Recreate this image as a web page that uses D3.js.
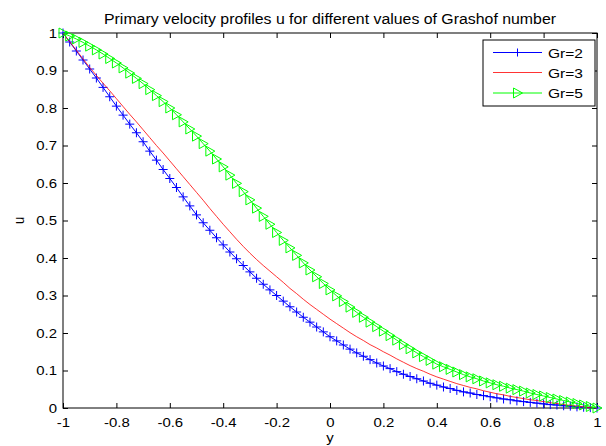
<!DOCTYPE html>
<html>
<head>
<meta charset="utf-8">
<script src="https://cdn.jsdelivr.net/npm/d3@7"></script>
<style>
  body { margin: 0; background: #fff; }
  text { font-family: "Liberation Sans", Arial, sans-serif; }
</style>
</head>
<body>
<svg id="main" width="606" height="446"></svg>
<script>
// chart values
const titleText = "Primary velocity  profiles u for different values of Grashof number";
const xLabel = "y";
const yLabel = "u";
const seriesNames = ["Gr=2", "Gr=3", "Gr=5"];
const xTicks = [-1, -0.8, -0.6, -0.4, -0.2, 0, 0.2, 0.4, 0.6, 0.8, 1];
const yTicks = [0, 0.1, 0.2, 0.3, 0.4, 0.5, 0.6, 0.7, 0.8, 0.9, 1];

const yGrid = [
  -1.000, -0.975, -0.950, -0.925, -0.900, -0.875, -0.850, -0.825, -0.800, -0.775,
  -0.750, -0.725, -0.700, -0.675, -0.650, -0.625, -0.600, -0.575, -0.550, -0.525,
  -0.500, -0.475, -0.450, -0.425, -0.400, -0.375, -0.350, -0.325, -0.300, -0.275,
  -0.250, -0.225, -0.200, -0.175, -0.150, -0.125, -0.100, -0.075, -0.050, -0.025,
   0.000,  0.025,  0.050,  0.075,  0.100,  0.125,  0.150,  0.175,  0.200,  0.225,
   0.250,  0.275,  0.300,  0.325,  0.350,  0.375,  0.400,  0.425,  0.450,  0.475,
   0.500,  0.525,  0.550,  0.575,  0.600,  0.625,  0.650,  0.675,  0.700,  0.725,
   0.750,  0.775,  0.800,  0.825,  0.850,  0.875,  0.900,  0.925,  0.950,  0.975,
   1.000
];

const uGr2 = [
  1.000, 0.976, 0.952, 0.928, 0.904, 0.880, 0.855, 0.830, 0.805, 0.781,
  0.757, 0.734, 0.710, 0.685, 0.661, 0.636, 0.612, 0.588, 0.563, 0.539,
  0.515, 0.494, 0.474, 0.454, 0.435, 0.416, 0.398, 0.380, 0.363, 0.346,
  0.330, 0.315, 0.300, 0.285, 0.270, 0.256, 0.242, 0.229, 0.216, 0.203,
  0.190, 0.179, 0.168, 0.157, 0.147, 0.138, 0.129, 0.120, 0.112, 0.105,
  0.097, 0.090, 0.084, 0.078, 0.072, 0.066, 0.061, 0.056, 0.052, 0.047,
  0.043, 0.040, 0.036, 0.033, 0.030, 0.027, 0.024, 0.022, 0.019, 0.017,
  0.015, 0.013, 0.011, 0.009, 0.008, 0.006, 0.005, 0.003, 0.002, 0.001,
  0.000
];

const uGr3 = [
  1.000, 0.977, 0.954, 0.931, 0.908, 0.887, 0.866, 0.846, 0.825, 0.804,
  0.783, 0.763, 0.742, 0.721, 0.700, 0.680, 0.659, 0.638, 0.617, 0.596,
  0.575, 0.554, 0.532, 0.511, 0.490, 0.470, 0.450, 0.431, 0.413, 0.396,
  0.380, 0.365, 0.350, 0.335, 0.319, 0.305, 0.290, 0.276, 0.263, 0.250,
  0.237, 0.225, 0.213, 0.201, 0.190, 0.180, 0.169, 0.160, 0.150, 0.141,
  0.131, 0.122, 0.113, 0.105, 0.098, 0.090, 0.083, 0.077, 0.071, 0.065,
  0.060, 0.055, 0.051, 0.046, 0.042, 0.038, 0.035, 0.031, 0.028, 0.025,
  0.022, 0.020, 0.017, 0.014, 0.012, 0.009, 0.007, 0.005, 0.003, 0.001,
  0.000
];

const uGr5 = [
  1.000, 0.992, 0.984, 0.975, 0.965, 0.955, 0.944, 0.932, 0.920, 0.907,
  0.893, 0.879, 0.865, 0.849, 0.833, 0.817, 0.800, 0.782, 0.763, 0.744,
  0.725, 0.705, 0.685, 0.664, 0.643, 0.621, 0.599, 0.577, 0.555, 0.533,
  0.511, 0.490, 0.468, 0.447, 0.427, 0.407, 0.387, 0.368, 0.350, 0.332,
  0.315, 0.299, 0.284, 0.269, 0.255, 0.242, 0.229, 0.217, 0.205, 0.193,
  0.181, 0.169, 0.158, 0.147, 0.137, 0.127, 0.117, 0.110, 0.103, 0.096,
  0.089, 0.083, 0.078, 0.072, 0.067, 0.062, 0.058, 0.053, 0.049, 0.045,
  0.040, 0.036, 0.032, 0.028, 0.024, 0.020, 0.016, 0.012, 0.008, 0.004,
  0.000
];

const size = {
    width: 606, height: 446,
    margin: {left: 63, right: 9, top: 33, bottom: 38}
};
const fontSize = 13;
const stretch = 1.15; // text in the picture is a bit wider than normal

const svg = d3.select("#main");
svg.append("rect").attr("width", size.width).attr("height", size.height).attr("fill", "#fff");

const plotLeft = size.margin.left;
const plotRight = size.width - size.margin.right;
const plotTop = size.margin.top;
const plotBottom = size.height - size.margin.bottom;

const xScale = d3.scaleLinear([-1, 1], [plotLeft, plotRight]);
const yScale = d3.scaleLinear([0, 1], [plotBottom, plotTop]);
const fmt = d => String(+d.toFixed(1));

// axes: inward ticks on all four sides
const xAxis = svg.append("g")
    .attr("transform", `translate(0,${plotBottom})`)
    .call(d3.axisBottom(xScale).tickValues(xTicks).tickSize(-5).tickPadding(9.5).tickFormat(fmt));
const yAxis = svg.append("g")
    .attr("transform", `translate(${plotLeft},0)`)
    .call(d3.axisLeft(yScale).tickValues(yTicks).tickSize(-5).tickPadding(6).tickFormat(fmt));
svg.append("g")
    .attr("transform", `translate(0,${plotTop})`)
    .call(d3.axisTop(xScale).tickValues(xTicks).tickSize(-5).tickFormat(""));
svg.append("g")
    .attr("transform", `translate(${plotRight},0)`)
    .call(d3.axisRight(yScale).tickValues(yTicks).tickSize(-5).tickFormat(""));

svg.selectAll(".domain").remove();
svg.selectAll(".tick line").attr("stroke", "#000");
svg.selectAll(".tick text")
    .attr("fill", "#000")
    .attr("font-size", fontSize)
    .attr("font-family", "Liberation Sans, Arial, sans-serif");
xAxis.selectAll(".tick text").attr("transform", `scale(${stretch},1)`);
yAxis.selectAll(".tick text")
    .attr("x", -6 / stretch)
    .attr("transform", `scale(${stretch},1)`);

svg.append("rect")
    .attr("x", plotLeft).attr("y", plotTop)
    .attr("width", plotRight - plotLeft).attr("height", plotBottom - plotTop)
    .attr("fill", "none").attr("stroke", "#000").attr("stroke-width", 1);

// series
const line = d3.line().x((d, i) => xScale(yGrid[i])).y(d => yScale(d));

const plusPath = (cx, cy, r) => `M${cx - r},${cy}H${cx + r}M${cx},${cy - r}V${cy + r}`;
const triPath = (cx, cy, r) => `M${cx - r * 0.8},${cy - r}L${cx + r},${cy}L${cx - r * 0.8},${cy + r}Z`;

svg.append("path").datum(uGr2)
    .attr("d", line).attr("fill", "none").attr("stroke", "#0000ff").attr("stroke-width", 1);
svg.append("g").selectAll("path").data(uGr2).join("path")
    .attr("d", (d, i) => plusPath(xScale(yGrid[i]), yScale(d), 4.5))
    .attr("stroke", "#0000ff").attr("stroke-width", 1).attr("fill", "none");

svg.append("path").datum(uGr3)
    .attr("d", line).attr("fill", "none").attr("stroke", "#ff0000").attr("stroke-width", 0.8);

svg.append("path").datum(uGr5)
    .attr("d", line).attr("fill", "none").attr("stroke", "#00ff00").attr("stroke-width", 1);
svg.append("g").selectAll("path").data(uGr5).join("path")
    .attr("d", (d, i) => triPath(xScale(yGrid[i]), yScale(d), 5))
    .attr("stroke", "#00ff00").attr("stroke-width", 1).attr("fill", "none");

// title and axis labels
svg.append("text")
    .attr("x", (plotLeft + plotRight) / 2).attr("y", 24)
    .attr("text-anchor", "middle")
    .attr("font-size", 14)
    .attr("textLength", 452)
    .attr("lengthAdjust", "spacingAndGlyphs")
    .attr("fill", "#000")
    .text(titleText);
svg.append("text")
    .attr("transform", `translate(${(plotLeft + plotRight) / 2},442) scale(${stretch},1)`)
    .attr("text-anchor", "middle")
    .attr("font-size", fontSize)
    .attr("fill", "#000")
    .text(xLabel);
svg.append("text")
    .attr("transform", `translate(24,${(plotTop + plotBottom) / 2}) rotate(-90) scale(1,${stretch})`)
    .attr("text-anchor", "middle")
    .attr("font-size", fontSize)
    .attr("fill", "#000")
    .text(yLabel);

// legend
const legend = {x: 483, y: 40, w: 112, h: 66};
svg.append("rect")
    .attr("x", legend.x).attr("y", legend.y)
    .attr("width", legend.w).attr("height", legend.h)
    .attr("fill", "#fff").attr("stroke", "#000").attr("stroke-width", 1);

const legendColors = ["#0000ff", "#ff0000", "#00ff00"];
const legendRows = [52.5, 72.5, 93];
seriesNames.forEach((name, i) => {
    const yy = legendRows[i];
    svg.append("line")
        .attr("x1", 493).attr("x2", 542).attr("y1", yy).attr("y2", yy)
        .attr("stroke", legendColors[i]).attr("stroke-width", i === 1 ? 0.8 : 1);
    if (i === 0) {
        svg.append("path").attr("d", plusPath(517.5, yy, 4))
            .attr("stroke", legendColors[i]).attr("fill", "none");
    }
    if (i === 2) {
        svg.append("path").attr("d", triPath(517.5, yy, 5))
            .attr("stroke", legendColors[i]).attr("fill", "none");
    }
    svg.append("text")
        .attr("transform", `translate(548,${yy + 5}) scale(${stretch},1)`)
        .attr("font-size", 13.5)
        .attr("fill", "#000")
        .text(name);
});
</script>
</body>
</html>
